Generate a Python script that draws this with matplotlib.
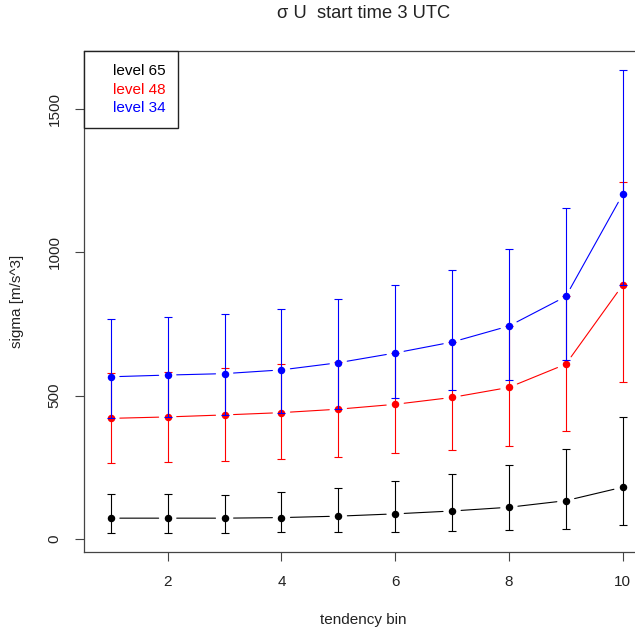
import matplotlib

matplotlib.use("Agg")

import matplotlib.pyplot as plt

plt.rcParams["font.family"] = ["Liberation Sans", "DejaVu Sans"]

# tendency bins on the x axis
bins = [1, 2, 3, 4, 5, 6, 7, 8, 9, 10]

# level 65 (black)
black_mean = [73, 73, 73, 75, 80, 88, 98, 111, 134, 181]
black_lo = [20, 22, 22, 23, 25, 26, 28, 32, 35, 48]
black_hi = [157, 157, 154, 164, 179, 204, 226, 259, 313, 427]

# level 48 (red)
red_mean = [421, 426, 433, 441, 453, 470, 494, 529, 610, 886]
red_lo = [264, 268, 274, 279, 288, 299, 310, 325, 377, 549]
red_hi = [578, 584, 595, 610, 618, 650, 688, 744, 848, 1244]

# level 34 (blue)
blue_mean = [566, 572, 577, 590, 615, 649, 687, 743, 846, 1202]
blue_lo = [421, 426, 433, 441, 453, 493, 520, 555, 624, 886]
blue_hi = [767, 775, 785, 802, 836, 886, 937, 1011, 1153, 1637]

legend_labels = ["level 65", "level 48", "level 34"]
x_ticks = [2, 4, 6, 8, 10]
y_ticks = [0, 500, 1000, 1500]

W, H = 635, 633


def draw_series(ax, x, mean, lo, hi, color, z):
    yerr = [[m - l for m, l in zip(mean, lo)], [h - m for m, h in zip(mean, hi)]]
    ax.errorbar(x, mean, yerr=yerr, fmt="none", ecolor=color, elinewidth=0.8,
                capsize=2.9, capthick=0.8, zorder=z)
    # R type="b": segments between points, with a gap round each point
    for i in range(len(x) - 1):
        ax.annotate("", xy=(x[i + 1], mean[i + 1]), xytext=(x[i], mean[i]),
                    arrowprops=dict(arrowstyle="-", color=color, lw=0.8,
                                    shrinkA=6.5, shrinkB=6.5),
                    zorder=z)
    ax.plot(x, mean, "o", color=color, markersize=5.4, markeredgewidth=0, zorder=z + 0.5)


fig = plt.figure(figsize=(W / 100, H / 100), dpi=100)
left, right, top, bottom = 83.5, 650, 51, 552
ax = fig.add_axes([left / W, (H - bottom) / H, (right - left) / W, (bottom - top) / H])

draw_series(ax, bins, black_mean, black_lo, black_hi, "black", 2)
draw_series(ax, bins, red_mean, red_lo, red_hi, "red", 3)
draw_series(ax, bins, blue_mean, blue_lo, blue_hi, "blue", 4)

ax.set_xlim(0.52, 10.48)
ax.set_ylim(-45, 1702)
ax.set_xticks(x_ticks)
ax.set_yticks(y_ticks)
ax.tick_params(length=6.7, width=0.8, color="#444444", labelsize=11,
               labelcolor="#222222", pad=9)
ax.tick_params(axis="x", pad=10)
for lab in ax.get_yticklabels():
    lab.set_rotation(90)
    lab.set_verticalalignment("center")
for s in ax.spines.values():
    s.set_color("#444444")
    s.set_linewidth(0.9)

ax.set_xlabel("tendency bin", fontsize=11, color="#222222")
ax.xaxis.set_label_coords((363.5 - left) / (right - left), (bottom - 613) / (bottom - top))
ax.set_ylabel("sigma [m/s^3]", fontsize=11, color="#222222")
ax.yaxis.set_label_coords((24 - left) / (right - left), 0.5)
fig.text(363.5 / W, 1 - 18 / H, "\u03c3 U  start time 3 UTC", ha="center", va="baseline",
         fontsize=13.2, color="#222222")

handles = [plt.Line2D([], [], color="none") for _ in legend_labels]
leg = ax.legend(handles, legend_labels, loc="upper left", borderaxespad=0,
                fancybox=False, framealpha=1, edgecolor="#222222", fontsize=11,
                handlelength=1.05, handletextpad=0, labelspacing=0.31,
                borderpad=0.85)
leg.get_frame().set_linewidth(1.0)
for txt, c in zip(leg.get_texts(), ["black", "red", "blue"]):
    txt.set_color(c)

fig.savefig("out.png", dpi=100)
